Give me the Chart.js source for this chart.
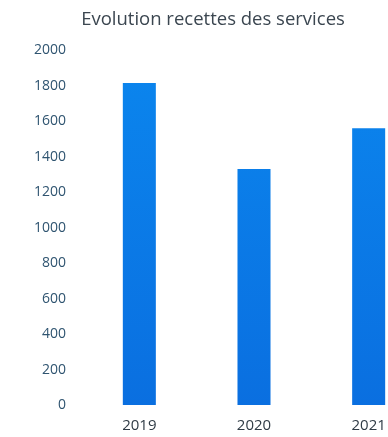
<!DOCTYPE html>
<html>
<head>
<meta charset="utf-8">
<script src="https://cdn.jsdelivr.net/npm/chart.js@4"></script>
<style>
  html, body { margin: 0; padding: 0; background: #fff; overflow: hidden; }
  #wrap { width: 430px; height: 437px; }
</style>
</head>
<body>
<div id="wrap"><canvas id="grafico" width="430" height="437"></canvas></div>
<script>
// années et recettes
const annees = ["2019", "2020", "2021"];
const recettes = [1815, 1330, 1560];
const titre = "Evolution recettes des services";

const ctx = document.getElementById("grafico").getContext("2d");

function degrade(context) {
  const bar = context.chart.chartArea;
  if (!bar) return "#0a7fe9";
  const g = context.chart.ctx.createLinearGradient(0, bar.bottom, 0, bar.top);
  g.addColorStop(0, "#0a6fe0");
  g.addColorStop(1, "#0b86ee");
  return g;
}

new Chart(ctx, {
  type: "bar",
  data: {
    labels: annees,
    datasets: [{
      label: "recettes",
      data: recettes,
      backgroundColor: degrade,
      borderWidth: 0,
      categoryPercentage: 1,
      barPercentage: 0.288
    }]
  },
  options: {
    responsive: false,
    animation: false,
    layout: { padding: { left: 0, right: 4, top: 0, bottom: 0 } },
    plugins: {
      legend: { display: false },
      tooltip: { enabled: false },
      title: {
        display: true,
        text: titre,
        color: "#3b4650",
        font: { family: "Open Sans", size: 18.5, weight: "normal" },
        padding: { top: 9, bottom: 19 }
      }
    },
    scales: {
      x: {
        afterFit: function (axe) { axe.height = 32; },
        grid: { display: false, drawTicks: false },
        border: { display: false },
        ticks: { color: "#2f3b45", font: { family: "Open Sans", size: 15 }, padding: 12 }
      },
      y: {
        min: 0,
        max: 2000,
        afterFit: function (axe) { axe.width = 82; },
        grid: { display: false, drawTicks: false },
        border: { display: false },
        ticks: {
          stepSize: 200,
          color: "#2f5470",
          font: { family: "Open Sans", size: 14 },
          padding: 16,
          callback: function (v) { return String(v); }
        }
      }
    }
  }
});
</script>
</body>
</html>
